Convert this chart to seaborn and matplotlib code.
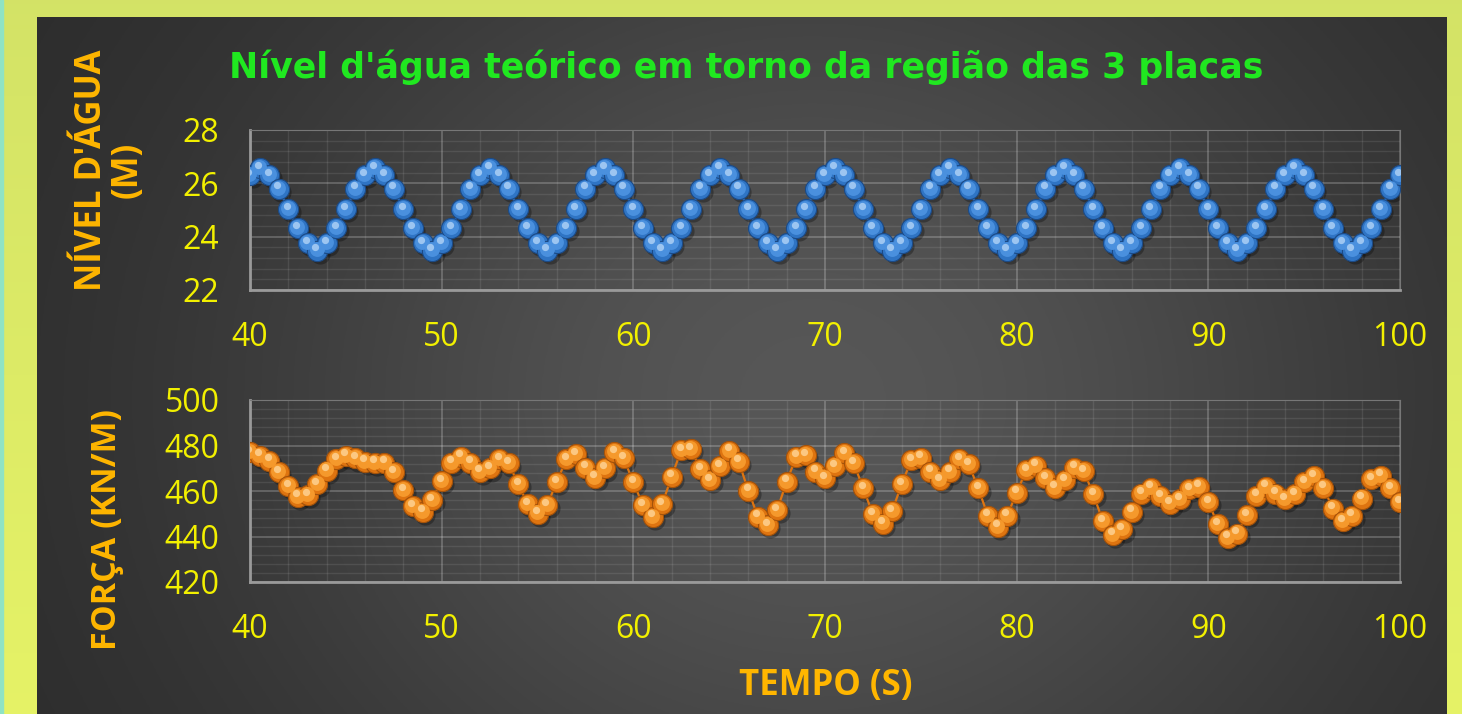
import numpy as np
import pandas as pd
import matplotlib
matplotlib.use("Agg")
import matplotlib.pyplot as plt
import matplotlib.transforms as mtransforms
from matplotlib.ticker import MultipleLocator
import seaborn as sns

# ---------------- data ----------------
titulo = "Nível d'água teórico em torno da região das 3 placas"
rotulo_nivel = "NÍVEL D'ÁGUA\n(M)"
rotulo_forca = "FORÇA (KN/M)"
rotulo_tempo = "TEMPO (S)"

# time samples (every 0.5 s from 40 to 100 s)
tempo = np.linspace(40, 100, 121)

nivel = [
    26.31, 26.56, 26.31, 25.79, 25.03, 24.31, 23.75, 23.48, 23.75, 24.31, 25.03, 25.79,
    26.31, 26.56, 26.31, 25.79, 25.03, 24.31, 23.75, 23.48, 23.75, 24.31, 25.03, 25.79,
    26.31, 26.56, 26.31, 25.79, 25.03, 24.31, 23.75, 23.48, 23.75, 24.31, 25.03, 25.79,
    26.31, 26.56, 26.31, 25.79, 25.03, 24.31, 23.75, 23.48, 23.75, 24.31, 25.03, 25.79,
    26.31, 26.56, 26.31, 25.79, 25.03, 24.31, 23.75, 23.48, 23.75, 24.31, 25.03, 25.79,
    26.31, 26.56, 26.31, 25.79, 25.03, 24.31, 23.75, 23.48, 23.75, 24.31, 25.03, 25.79,
    26.31, 26.56, 26.31, 25.79, 25.03, 24.31, 23.75, 23.48, 23.75, 24.31, 25.03, 25.79,
    26.31, 26.56, 26.31, 25.79, 25.03, 24.31, 23.75, 23.48, 23.75, 24.31, 25.03, 25.79,
    26.31, 26.56, 26.31, 25.79, 25.03, 24.31, 23.75, 23.48, 23.75, 24.31, 25.03, 25.79,
    26.31, 26.56, 26.31, 25.79, 25.03, 24.31, 23.75, 23.48, 23.75, 24.31, 25.03, 25.79,
    26.31,
]

forca = [
    477.0, 475.4, 473.2, 468.2, 462.2, 457.5, 458.2, 462.9, 469.0, 474.0,
    475.5, 474.3, 472.9, 472.4, 472.4, 468.2, 460.4, 453.4, 450.9, 456.0,
    464.4, 472.4, 475.1, 472.4, 468.5, 469.9, 474.0, 472.1, 462.9, 454.1,
    450.1, 453.8, 463.8, 474.0, 476.1, 470.2, 465.8, 469.9, 477.0, 474.3,
    463.8, 453.8, 448.7, 454.1, 466.3, 478.0, 478.4, 469.6, 464.8, 471.0,
    477.6, 472.9, 460.1, 448.7, 445.0, 451.6, 464.1, 475.1, 475.8, 468.5,
    465.5, 471.0, 476.5, 472.1, 461.1, 449.7, 445.7, 451.2, 462.9, 473.6,
    474.6, 468.5, 464.8, 468.5, 474.0, 471.7, 461.1, 449.1, 444.3, 449.1,
    459.2, 469.2, 471.1, 465.5, 461.4, 464.8, 470.2, 468.8, 458.5, 446.7,
    440.8, 443.1, 450.9, 458.9, 461.4, 457.8, 454.5, 456.3, 460.7, 461.9,
    455.0, 445.3, 439.4, 441.3, 449.4, 457.9, 461.9, 458.9, 456.4, 458.6,
    463.8, 466.6, 461.4, 452.3, 446.7, 449.1, 456.7, 465.1, 466.7, 461.1,
    455.0,
]

x_ticks = [40, 50, 60, 70, 80, 90, 100]
nivel_ticks = [22, 24, 26, 28]
forca_ticks = [420, 440, 460, 480, 500]

df = pd.DataFrame({"tempo": tempo, "nivel": nivel, "forca": forca})

# ---------------- style ----------------
sns.set_style("dark")
plt.rcParams["font.family"] = ["Open Sans", "DejaVu Sans"]

W, H = 1462, 714
fig = plt.figure(figsize=(W / 100, H / 100), dpi=100)
fig.patch.set_facecolor("#d6e466")

# background: outer frame + dark radial gradient panel
bg = fig.add_axes([0, 0, 1, 1], zorder=-10)
bg.set_xlim(0, W)
bg.set_ylim(H, 0)
bg.axis("off")
yy = np.linspace(0, 1, 200)[:, None]
frame = np.ones((200, 2, 3))
top_c = np.array([0.83, 0.89, 0.40])
bot_c = np.array([0.90, 0.95, 0.40])
frame[:] = (top_c * (1 - yy) + bot_c * yy)[:, None, :]
bg.imshow(frame, extent=(0, W, H, 0), aspect="auto", zorder=0)
bg.add_patch(plt.Rectangle((0, 0), 2.5, H, color="#8fe3c4", zorder=1))

px = np.linspace(0, 1, 400)[None, :]
py = np.linspace(0, 1, 300)[:, None]
r = np.exp(-((px - 0.55) / 0.42) ** 2 - ((py - 0.55) / 0.75) ** 2)
dark, light = 0.16, 0.34
val = dark + (light - dark) * r
panel = np.dstack([val, val, val])
bg.imshow(panel, extent=(37, 1447, H, 17), aspect="auto", zorder=2)

TICK_C = "#f2f000"
LAB_C = "#ffb600"
MS = 14.5


def sphere_layers(ax, x, y, base, edge, mid, hi, size):
    # soft shadow
    sh = mtransforms.offset_copy(ax.transData, fig=fig, x=1.8, y=-2.2, units="points")
    ax.plot(x, y, "o", ms=size, color="black", alpha=0.3, mew=0, transform=sh, zorder=2)
    # line + base spheres via seaborn
    sns.lineplot(data=df, x="tempo", y=y.name, ax=ax, color=base, lw=1.6,
                 marker="o", markersize=size, markerfacecolor=base,
                 markeredgecolor=edge, markeredgewidth=0.8, zorder=3)
    t1 = mtransforms.offset_copy(ax.transData, fig=fig, x=-0.4, y=0.8, units="points")
    ax.plot(x, y, "o", ms=size * 0.74, color=mid, mew=0, transform=t1, zorder=4)
    t2 = mtransforms.offset_copy(ax.transData, fig=fig, x=-1.2, y=2.5, units="points")
    ax.plot(x, y, "o", ms=size * 0.36, color=hi, mew=0, alpha=0.75, transform=t2, zorder=5)


def style_axes(ax, yticks, ymajor):
    ax.set_facecolor("none")
    ax.set_xlim(40, 100)
    ax.set_ylim(yticks[0], yticks[-1])
    ax.set_xticks(x_ticks)
    ax.set_yticks(yticks)
    ax.xaxis.set_minor_locator(MultipleLocator(2))
    ax.yaxis.set_minor_locator(MultipleLocator(ymajor / 5))
    ax.grid(which="major", color="white", alpha=0.22, lw=1.3)
    ax.grid(which="minor", color="white", alpha=0.09, lw=1.0)
    ax.set_axisbelow(True)
    for s in ["top", "right"]:
        ax.spines[s].set_visible(True)
        ax.spines[s].set_color("#777777")
        ax.spines[s].set_linewidth(0.8)
    for s in ["left", "bottom"]:
        ax.spines[s].set_visible(True)
        ax.spines[s].set_color("#9a9a9a")
        ax.spines[s].set_linewidth(2.0)
    ax.tick_params(axis="both", which="both", length=0, colors=TICK_C, labelsize=23)
    ax.tick_params(axis="x", pad=22)
    ax.tick_params(axis="y", pad=22)
    ax.set_xlabel("")
    ax.set_ylabel("")


L = 250 / W
Wd = 1150 / W
ax1 = fig.add_axes([L, 1 - 290 / H, Wd, 160 / H])
ax2 = fig.add_axes([L, 1 - 582 / H, Wd, 182 / H])

sphere_layers(ax1, df["tempo"], df["nivel"], base="#2f74c4", edge="#1c4a85",
              mid="#4a90de", hi="#b9d8f8", size=MS)
sphere_layers(ax2, df["tempo"], df["forca"], base="#de7410", edge="#a3520a",
              mid="#f5992c", hi="#ffd9a0", size=MS)

style_axes(ax1, nivel_ticks, 2)
style_axes(ax2, forca_ticks, 20)

fig.text(746 / W, 1 - 67 / H, titulo, color="#20e820", fontsize=25,
         fontweight="bold", family="DejaVu Sans", ha="center", va="center")
fig.text(110 / W, 1 - 170 / H, rotulo_nivel, color=LAB_C, fontsize=25,
         fontweight="bold", rotation=90, ha="center", va="center",
         multialignment="center", linespacing=1.0)
fig.text(107 / W, 1 - 529 / H, rotulo_forca, color=LAB_C, fontsize=24.5,
         fontweight="bold", rotation=90, ha="center", va="center")
fig.text(826 / W, 1 - 686 / H, rotulo_tempo, color=LAB_C, fontsize=25,
         fontweight="bold", ha="center", va="center")

fig.savefig("out.png", dpi=100, facecolor=fig.get_facecolor())
